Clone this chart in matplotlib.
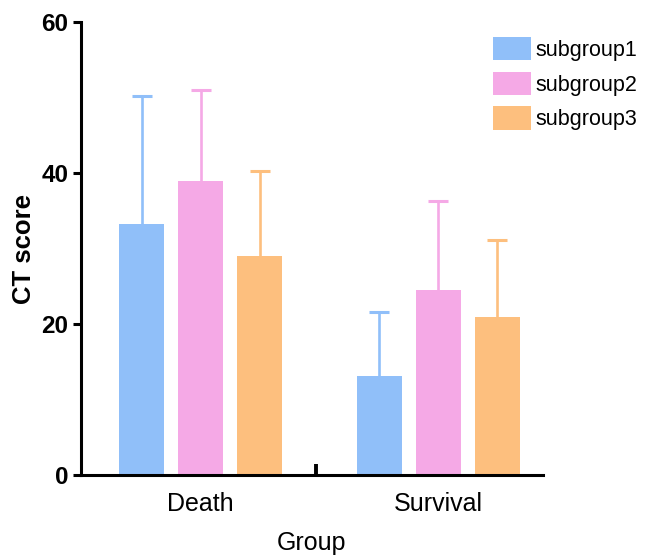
import matplotlib
matplotlib.use("Agg")
import matplotlib.pyplot as plt
import numpy as np

groups = ["Death", "Survival"]
subgroups = ["subgroup1", "subgroup2", "subgroup3"]
means = {
    "subgroup1": [33.2, 13.1],
    "subgroup2": [38.9, 24.5],
    "subgroup3": [29.0, 20.9],
}
upper = {
    "subgroup1": [50.2, 21.6],
    "subgroup2": [51.0, 36.3],
    "subgroup3": [40.3, 31.1],
}
colors = ["#90BFF9", "#F5A9E6", "#FDBF7E"]
yticks = [0, 20, 40, 60]

plt.rcParams['font.family'] = ['Liberation Sans', 'DejaVu Sans']

fig = plt.figure(figsize=(6.46, 5.55), dpi=100)
ax = fig.add_axes([81/646, 80/555, 462/646, 453/555])

x = np.arange(len(groups))
offset = 0.248
width = 0.189
for i, sg in enumerate(subgroups):
    pos = x + (i - 1) * offset
    m = np.array(means[sg])
    u = np.array(upper[sg])
    ax.bar(pos, m, width=width, color=colors[i], label=sg, zorder=2)
    ax.vlines(pos, m, u, colors=colors[i], linewidth=1.9, zorder=1)
    ax.plot(pos, u, linestyle='none', marker='_', markersize=14,
            markeredgewidth=2.2, color=colors[i], zorder=1)

ax.set_xlim(-0.504, 1.441)
ax.set_ylim(0, 60)
ax.set_yticks(yticks)
ax.set_yticklabels([str(t) for t in yticks], fontsize=17.5, fontweight='bold')
ax.set_xticks(x)
ax.set_xticklabels(groups, fontsize=18)
ax.tick_params(axis='x', length=0, pad=12)
ax.tick_params(axis='y', width=2.2, length=6, pad=3)

# separator tick between groups
ax.set_xticks([0.487], minor=True)
ax.tick_params(axis='x', which='minor', direction='in', length=8, width=2.8)

for s in ['top', 'right']:
    ax.spines[s].set_visible(False)
for s in ['left', 'bottom']:
    ax.spines[s].set_linewidth(2.2)

ax.set_ylabel("CT score", fontsize=18.5, fontweight='bold', labelpad=4)
ax.set_xlabel("Group", fontsize=18, labelpad=11)

leg = fig.legend(*ax.get_legend_handles_labels(), loc='upper left',
                 bbox_to_anchor=(493/646, 1 - 37/555), frameon=False,
                 fontsize=15.5, handlelength=1.77, handleheight=1.3,
                 handletextpad=0.22, labelspacing=0.5,
                 borderpad=0, borderaxespad=0)

fig.savefig("out.png", dpi=100)
